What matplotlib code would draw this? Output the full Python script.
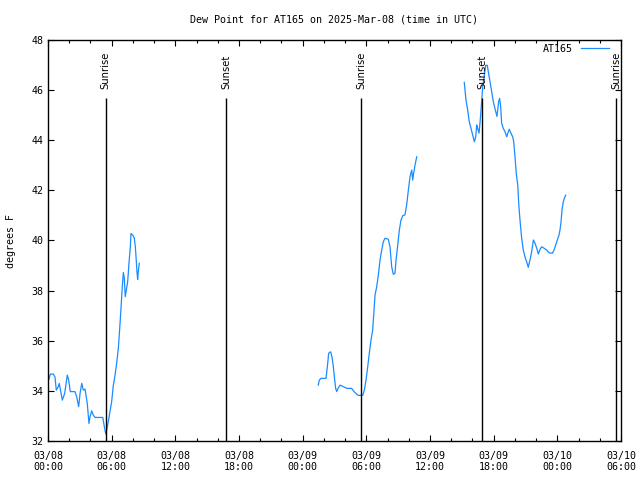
import matplotlib
matplotlib.use('Agg')
import matplotlib.pyplot as plt
from matplotlib.ticker import MultipleLocator, FuncFormatter
from datetime import datetime, timedelta

# Часы от 2025-03-08 00:00 UTC и точка росы (°F), три участка с разрывами
t1 = [0.09, 0.22, 0.50, 0.66, 0.78, 0.97, 1.06, 1.20, 1.35, 1.57, 1.82, 1.95, 2.10, 2.54,
      2.70, 2.89, 3.02, 3.18, 3.33, 3.49, 3.70, 3.86, 3.96, 4.12, 4.27, 4.43, 5.16, 5.31,
      5.44, 5.53, 5.68, 5.84, 6.00, 6.15, 6.31, 6.47, 6.63, 6.76, 6.88, 7.00, 7.10, 7.19,
      7.28, 7.38, 7.51, 7.63, 7.76, 7.82, 7.98, 8.13, 8.23, 8.32, 8.39, 8.45, 8.51, 8.60]
d1 = [34.47, 34.67, 34.67, 34.55, 34.03, 34.17, 34.30, 33.97, 33.63, 33.90, 34.63, 34.43,
      33.97, 33.97, 33.77, 33.37, 33.90, 34.30, 34.03, 34.07, 33.50, 32.70, 32.97, 33.20,
      33.03, 32.94, 32.94, 32.57, 32.28, 32.44, 32.77, 33.17, 33.57, 34.20, 34.60, 35.10,
      35.70, 36.50, 37.30, 38.16, 38.72, 38.50, 37.76, 38.02, 38.36, 39.09, 39.75, 40.28,
      40.22, 40.10, 39.75, 39.20, 38.72, 38.45, 38.75, 39.09]

t2 = [25.47, 25.57, 25.73, 26.20, 26.36, 26.45, 26.64, 26.76, 26.89, 27.02, 27.11, 27.21,
      27.33, 27.52, 27.83, 28.15, 28.62, 28.84, 29.09, 29.24, 29.66, 29.81, 29.97, 30.13,
      30.28, 30.44, 30.60, 30.69, 30.82, 30.98, 31.13, 31.29, 31.45, 31.60, 31.76, 32.07,
      32.23, 32.39, 32.54, 32.70, 32.80, 32.96, 33.11, 33.27, 33.43, 33.64, 33.80, 33.96,
      34.12, 34.28, 34.37, 34.46, 34.59, 34.75]
d2 = [34.23, 34.43, 34.50, 34.50, 35.10, 35.50, 35.56, 35.36, 34.96, 34.43, 34.10, 33.97,
      34.10, 34.23, 34.17, 34.10, 34.10, 33.97, 33.87, 33.82, 33.82, 34.03, 34.43, 34.96,
      35.50, 36.03, 36.43, 37.00, 37.82, 38.16, 38.62, 39.22, 39.62, 39.95, 40.09, 40.05,
      39.75, 38.95, 38.65, 38.69, 39.22, 39.82, 40.42, 40.82, 40.99, 41.02, 41.42, 42.01,
      42.55, 42.81, 42.41, 42.68, 43.01, 43.34]

t3 = [39.23, 39.39, 39.55, 39.70, 39.86, 40.02, 40.18, 40.31, 40.40, 40.49, 40.62, 40.71,
      40.83, 40.96, 41.09, 41.25, 41.40, 41.49, 41.65, 41.81, 41.96, 42.19, 42.31, 42.38,
      42.47, 42.56, 42.66, 42.75, 42.90, 43.07, 43.23, 43.38, 43.47, 43.63, 43.79, 43.89,
      44.01, 44.13, 44.27, 44.36, 44.48, 44.64, 44.79, 44.95, 45.11, 45.26, 45.42, 45.58,
      45.74, 45.90, 46.06, 46.21, 46.37, 46.53, 46.68, 47.00, 47.22, 47.53, 47.69, 47.85,
      48.00, 48.16, 48.25, 48.35, 48.44, 48.56, 48.72, 48.79]
d3 = [46.31, 45.61, 45.21, 44.74, 44.48, 44.21, 43.94, 44.14, 44.61, 44.48, 44.28, 44.68,
      45.34, 46.10, 46.50, 46.99, 46.99, 46.75, 46.35, 45.95, 45.55, 45.15, 44.95, 45.21,
      45.54, 45.67, 45.34, 44.68, 44.48, 44.34, 44.14, 44.34, 44.44, 44.28, 44.14, 43.94,
      43.34, 42.68, 42.21, 41.48, 40.82, 40.09, 39.62, 39.35, 39.15, 38.93, 39.22, 39.55,
      40.02, 39.89, 39.69, 39.46, 39.65, 39.75, 39.71, 39.62, 39.51, 39.49, 39.62, 39.82,
      40.02, 40.22, 40.42, 40.75, 41.22, 41.55, 41.75, 41.81]

# Восход / закат (часы от начала)
sun_times = [5.45, 16.77, 29.54, 40.90, 53.53]
sun_labels = ['Sunrise', 'Sunset', 'Sunrise', 'Sunset', 'Sunrise']

start = datetime(2025, 3, 8)
mono = 'DejaVu Sans Mono'
fs = 7.2
color = '#1a8cff'

fig = plt.figure(figsize=(6.4, 4.8), dpi=100)
ax = fig.add_axes([48 / 640, 39 / 480, 573 / 640, 401 / 480])

ax.plot(t1, d1, color=color, lw=0.9, label='AT165')
ax.plot(t2, d2, color=color, lw=0.9)
ax.plot(t3, d3, color=color, lw=0.9)

# Вертикальные линии восхода/заката с подписями
for t, lab in zip(sun_times, sun_labels):
    ax.vlines(t, 32, 45.69, color='black', lw=1.0)
    ax.text(t, 46.05, lab, rotation=90, ha='center', va='bottom',
            family='DejaVu Sans', fontsize=7.2)

ax.set_xlim(0, 54)
ax.set_ylim(32, 48)
ax.xaxis.set_major_locator(MultipleLocator(6))
ax.xaxis.set_minor_locator(MultipleLocator(2))
ax.yaxis.set_major_locator(MultipleLocator(2))


def fmt(x, pos):
    d = start + timedelta(hours=x)
    return d.strftime('%m/%d\n%H:%M')


ax.xaxis.set_major_formatter(FuncFormatter(fmt))
ax.tick_params(which='both', direction='in', top=True, right=True, labelsize=fs)
ax.tick_params(which='major', length=4, width=0.8)
ax.tick_params(which='minor', length=2.5, width=0.8)
ax.tick_params(axis='x', pad=7)
for lbl in ax.get_xticklabels() + ax.get_yticklabels():
    lbl.set_family(mono)
for s in ax.spines.values():
    s.set_linewidth(1.0)

ax.set_ylabel('degrees F', family=mono, fontsize=fs, labelpad=11)
fig.text(334.5 / 640, 1 - 20 / 480, 'Dew Point for AT165 on 2025-Mar-08 (time in UTC)',
         ha='center', va='center', family=mono, fontsize=fs)

ax.legend(loc='upper right', frameon=False, markerfirst=False, handlelength=2.8,
          bbox_to_anchor=(1 - 5 / 573, 1 + 3 / 401), borderaxespad=0.3,
          prop={'family': mono, 'size': fs})

plt.savefig('out.png', dpi=100)
